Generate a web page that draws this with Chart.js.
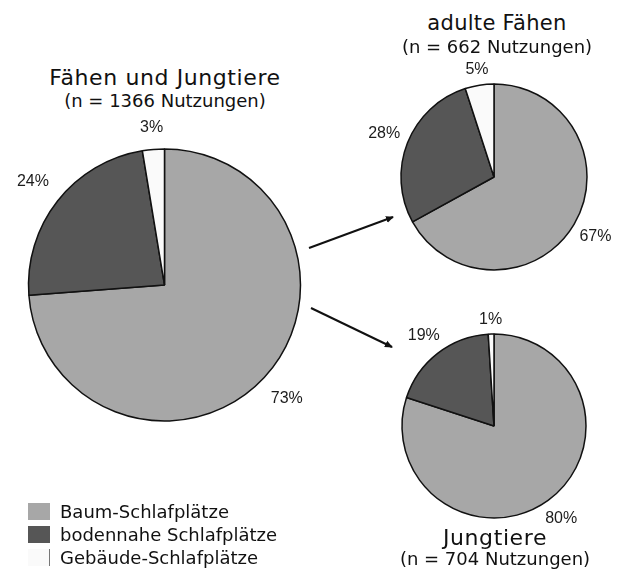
<!DOCTYPE html>
<html>
<head>
<meta charset="utf-8">
<script src="https://cdn.jsdelivr.net/npm/chart.js@4/dist/chart.umd.min.js"></script>
<style>
    body { margin: 0; background: #fff; }
    #stage { position: relative; width: 620px; height: 572px; overflow: hidden; font-family: "DejaVu Sans", sans-serif; color: #111; }
    canvas { position: absolute; }
    .title { position: absolute; text-align: center; white-space: nowrap; font-size: 22px; letter-spacing: 0.6px; line-height: 24px; }
    .sub { position: absolute; text-align: center; white-space: nowrap; font-size: 18px; line-height: 20px; }
    #legend { position: absolute; left: 28px; top: 500px; font-size: 18px; }
    .legend-row { display: flex; align-items: center; height: 23px; }
    .legend-box { width: 22px; height: 17px; margin-right: 10px; box-sizing: border-box; }
    #arrows { position: absolute; left: 0; top: 0; }
</style>
</head>
<body>
<div id="stage">
    <canvas id="pieAll" width="329" height="330" style="left:0px; top:120px;"></canvas>
    <canvas id="pieAdult" width="250" height="250" style="left:369px; top:52px;"></canvas>
    <canvas id="pieYoung" width="250" height="250" style="left:369px; top:301px;"></canvas>

    <div class="title" style="left:0px; width:330px; top:66px;">Fähen und Jungtiere</div>
    <div class="sub" style="left:0px; width:330px; top:91px;">(n = 1366 Nutzungen)</div>

    <div class="title" style="left:377px; width:240px; top:11px; font-size:21px; letter-spacing:0.3px;">adulte Fähen</div>
    <div class="sub" style="left:377px; width:240px; top:37px;">(n = 662 Nutzungen)</div>

    <div class="title" style="left:375px; width:240px; top:526px;">Jungtiere</div>
    <div class="sub" style="left:375px; width:240px; top:549px;">(n = 704 Nutzungen)</div>

    <svg id="arrows" width="620" height="572">
        <defs>
            <marker id="head" markerWidth="8" markerHeight="8" refX="7" refY="4" orient="auto" markerUnits="userSpaceOnUse">
                <path d="M0,0.5 L8,4 L0,7.5 Z" fill="#111"></path>
            </marker>
        </defs>
        <line x1="309" y1="248" x2="393" y2="217" stroke="#111" stroke-width="2" marker-end="url(#head)"></line>
        <line x1="311" y1="308" x2="392" y2="347" stroke="#111" stroke-width="2" marker-end="url(#head)"></line>
    </svg>

    <div id="legend"></div>
</div>

<script>
// categories and colours
const categories = ["Baum-Schlafplätze", "bodennahe Schlafplätze", "Gebäude-Schlafplätze"];
const sliceColors = ["#a7a7a7", "#565656", "#fafafa"];

// shares in percent
const allValues = [73.8, 23.6, 2.6];
const adultValues = [67, 28, 5];
const youngValues = [80, 19, 1];

// percentage labels as printed
const allLabels = ["73%", "24%", "3%"];
const adultLabels = ["67%", "28%", "5%"];
const youngLabels = ["80%", "19%", "1%"];

// --- outside percentage labels ---
const outsideLabels = {
    id: "outsideLabels",
    afterDatasetsDraw(chart, args, opts) {
        const ctx = chart.ctx;
        const meta = chart.getDatasetMeta(0);
        ctx.save();
        ctx.font = "16px 'Liberation Sans', Arial, sans-serif";
        ctx.fillStyle = "#1c1c1c";
        ctx.textAlign = "center";
        ctx.textBaseline = "middle";
        meta.data.forEach((arc, i) => {
            const p = arc.getProps(["x", "y", "startAngle", "endAngle", "outerRadius"], true);
            const mid = (p.startAngle + p.endAngle) / 2;
            const txt = opts.texts[i];
            const w = ctx.measureText(txt).width;
            const h = 12;
            const dx = Math.cos(mid), dy = Math.sin(mid);
            const dist = p.outerRadius + opts.gap + Math.abs(dx) * w / 2 + Math.abs(dy) * h / 2;
            ctx.fillText(txt, p.x + dx * dist, p.y + dy * dist);
        });
        ctx.restore();
    }
};

function makePie(id, values, texts, radius, gap) {
    return new Chart(document.getElementById(id), {
        type: "pie",
        data: {
            labels: categories,
            datasets: [{
                data: values,
                backgroundColor: sliceColors,
                borderColor: "#111",
                borderWidth: 1.5
            }]
        },
        options: {
            responsive: false,
            animation: false,
            radius: radius,
            layout: { padding: 0 },
            plugins: {
                legend: { display: false },
                tooltip: { enabled: false },
                outsideLabels: { texts: texts, gap: gap }
            }
        },
        plugins: [outsideLabels]
    });
}

makePie("pieAll", allValues, allLabels, 136, 15);
makePie("pieAdult", adultValues, adultLabels, 93, 8);
makePie("pieYoung", youngValues, youngLabels, 92, 8);

// --- legend ---
const legend = document.getElementById("legend");
categories.forEach((name, i) => {
    const row = document.createElement("div");
    row.className = "legend-row";
    const box = document.createElement("div");
    box.className = "legend-box";
    box.style.background = sliceColors[i];
    if (i === 2) box.style.borderRight = "1px solid #777";
    const label = document.createElement("span");
    label.textContent = name;
    row.appendChild(box);
    row.appendChild(label);
    legend.appendChild(row);
});
</script>
</body>
</html>
